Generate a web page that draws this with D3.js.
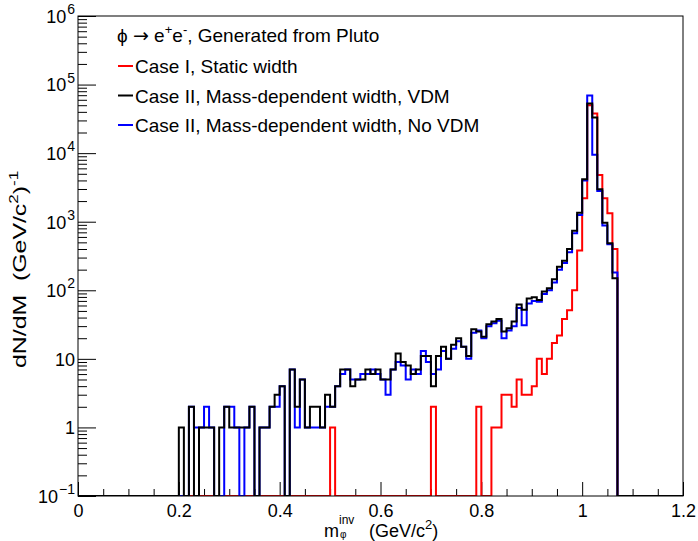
<!DOCTYPE html>
<html lang="en">
<head>
<meta charset="utf-8">
<title>phi to ee</title>
<script src="https://d3js.org/d3.v7.min.js"></script>
<style>
  body { margin: 0; background: #fff; }
  text { font-family: "Liberation Sans", Arial, Helvetica, sans-serif; fill: #000; }
</style>
</head>
<body>
<div id="chart"></div>
<script>
// histogram binning: 120 bins of 0.01 GeV from 0 to 1.2
var binWidth = 0.01,
    nBins = 120,
    firstBin = 20; // arrays below start at bin 20 (0.20 GeV)

// Case I, static width (red)
var staticWidth = [
  0,0,0,0,0,0,0,0,0,0,
  0,0,0,0,0,0,0,0,0,0,
  0,0,0,0,0,0,0,0,0,0,
  1,0,0,0,0,0,0,0,0,0,
  0,0,0,0,0,0,0,0,0,0,
  2,0,0,0,0,0,0,0,0,2,
  0,0,1,1,3,3,2,5,3,3,
  4,10,6,10,17,22,38,51,100,380,
  2200,50000,38000,4800,2200,1330,400
];
// Case II, mass-dependent width, VDM (black)
var vdm = [
  1,0,2,0,1,1,1,0,1,2,
  1,1,1,1,2,0,1,1,2,3,
  4,0,7,2,5,1,2,2,1,3,
  2,4,7,7,4,5,5,7,6,7,
  5,5,7,12,9,8,6,7,11,11,
  4,11,15,10,16,20,15,11,27,25,
  21,32,35,38,25,28,35,62,52,76,
  79,72,96,107,145,221,270,400,740,1355,
  4160,53000,33000,2970,968,484,150
];
// Case II, mass-dependent width, no VDM (blue)
var noVdm = [
  0,0,2,1,1,2,1,0,0,2,
  2,1,0,1,2,0,1,1,2,2,
  4,0,7,1,5,1,1,1,1,2,
  2,4,6,7,5,5,6,6,7,6,
  5,3,7,9,8,5,7,6,13,9,
  6,7,13,10,14,18,15,10,24,26,
  20,30,33,36,20,26,30,55,31,64,
  70,68,88,100,130,200,250,360,680,1250,
  4000,69000,9500,2800,880,470,181
];

var xTicks = [0, 0.2, 0.4, 0.6, 0.8, 1, 1.2],
    xTickLabels = ["0", "0.2", "0.4", "0.6", "0.8", "1", "1.2"],
    yTicks = [0.1, 1, 10, 100, 1000, 10000, 100000, 1000000],
    yTickLabels = [["10", "\u22121"], ["1", ""], ["10", ""], ["10", "2"], ["10", "3"], ["10", "4"], ["10", "5"], ["10", "6"]];

var legendItems = [
  {label: "Case I, Static width", color: "#ff0000"},
  {label: "Case II, Mass-dependent width, VDM", color: "#000000"},
  {label: "Case II, Mass-dependent width, No VDM", color: "#0000ff"}
];

var width = 698, height = 541,
    margin = {top: 16, right: 15, bottom: 45, left: 78};

var svg = d3.select("#chart").append("svg")
    .attr("width", width)
    .attr("height", height);

var x = d3.scaleLinear().domain([0, 1.2]).range([margin.left, width - margin.right]);
var y = d3.scaleLog().domain([0.1, 1e6]).range([height - margin.bottom, margin.top]);
var yBottom = y.range()[0];

// minor ticks
var xMinor = d3.range(0, 1.2001, 0.05).filter(function(d) { return Math.abs(d / 0.2 - Math.round(d / 0.2)) > 1e-6; });
var yMinor = [];
for (var e = -1; e < 6; e++) {
  for (var m = 2; m < 10; m++) yMinor.push(m * Math.pow(10, e));
}

svg.append("g")
    .attr("transform", "translate(0," + yBottom + ")")
    .call(d3.axisBottom(x).tickValues(xMinor).tickSize(-7).tickFormat(""))
    .call(function(g) { g.select(".domain").remove(); });

svg.append("g")
    .attr("class", "xAxis")
    .attr("transform", "translate(0," + yBottom + ")")
    .call(d3.axisBottom(x).tickValues(xTicks).tickSize(-14).tickPadding(8)
      .tickFormat(function(d, i) { return xTickLabels[i]; }))
    .call(function(g) {
      g.select(".domain").remove();
      g.selectAll("text").attr("font-size", 18).attr("dy", "0.71em")
        .style("font-family", "'Liberation Sans', Arial, sans-serif");
    });

svg.append("g")
    .attr("transform", "translate(" + margin.left + ",0)")
    .call(d3.axisLeft(y).tickValues(yMinor).tickSize(-9).tickFormat(""))
    .call(function(g) { g.select(".domain").remove(); });

svg.append("g")
    .attr("class", "yAxis")
    .attr("transform", "translate(" + margin.left + ",0)")
    .call(d3.axisLeft(y).tickValues(yTicks).tickSize(-18).tickPadding(3).tickFormat(""))
    .call(function(g) {
      g.select(".domain").remove();
      g.selectAll(".tick text").each(function(d, i) {
        var t = d3.select(this)
            .attr("font-size", 18)
            .attr("dy", "0.35em")
            .style("font-family", "'Liberation Sans', Arial, sans-serif");
        t.append("tspan").text(yTickLabels[i][0]);
        if (yTickLabels[i][1]) {
          t.append("tspan").attr("font-size", 14).attr("dx", 1).attr("dy", "-0.62em").text(yTickLabels[i][1]);
        }
      });
    });

// histograms
function histPath(values) {
  var pts = [[0, 0]];
  for (var i = 0; i < nBins; i++) {
    var k = i - firstBin;
    var v = (k >= 0 && k < values.length) ? values[k] : 0;
    pts.push([i * binWidth, v]);
  }
  pts.push([nBins * binWidth, 0]);
  return d3.line()
      .x(function(d) { return x(d[0]); })
      .y(function(d) { return d[1] > 0 ? y(d[1]) : yBottom; })
      .curve(d3.curveStepAfter)(pts);
}

svg.append("defs").append("clipPath").attr("id", "clip")
  .append("rect")
    .attr("x", margin.left).attr("y", margin.top)
    .attr("width", x.range()[1] - margin.left)
    .attr("height", yBottom - margin.top);

var hists = svg.append("g").attr("clip-path", "url(#clip)");
[[staticWidth, "#ff0000"], [noVdm, "#0000ff"], [vdm, "#000000"]].forEach(function(s) {
  hists.append("path")
      .attr("d", histPath(s[0]))
      .attr("fill", "none")
      .attr("stroke", s[1])
      .attr("stroke-width", 2)
      .attr("stroke-linejoin", "miter");
});

// frame
svg.append("rect")
    .attr("x", margin.left).attr("y", margin.top)
    .attr("width", x.range()[1] - margin.left)
    .attr("height", yBottom - margin.top)
    .attr("fill", "none").attr("stroke", "#000").attr("stroke-width", 1);

// x axis title, pieces kept apart so the sub/superscripts stack under and over each other
var xTitle = svg.append("g").attr("font-size", 18);
xTitle.append("text").attr("x", 324).attr("y", 537).text("m");
xTitle.append("text").attr("x", 340).attr("y", 538).attr("font-size", 10).text("\u03c6");
xTitle.append("text").attr("x", 339).attr("y", 524).attr("font-size", 12).text("inv");
var xt = xTitle.append("text").attr("x", 369).attr("y", 537);
xt.append("tspan").text("(GeV/c");
xt.append("tspan").attr("font-size", 13).attr("dy", -8).text("2");
xt.append("tspan").attr("dy", 8).text(")");

var yt = svg.append("text")
    .attr("transform", "translate(26,368) rotate(-90) scale(1.42,1)")
    .attr("font-size", 17.5);
yt.append("tspan").text("dN/dM\u00a0\u00a0(GeV/c");
yt.append("tspan").attr("font-size", 12).attr("dy", -8).text("2");
yt.append("tspan").attr("dy", 8).text(")");
yt.append("tspan").attr("font-size", 12).attr("dy", -8).text("-1");

// legend
var lg = svg.append("g");
var head = lg.append("text").attr("x", 117).attr("y", 42).attr("font-size", 19);
head.append("tspan").text("\u03d5 ");
head.append("tspan").style("font-family", "'DejaVu Sans', sans-serif").text("\u2192");
head.append("tspan").text(" e");
head.append("tspan").attr("font-size", 13).attr("dy", -8).text("+");
head.append("tspan").attr("dy", 8).text("e");
head.append("tspan").attr("font-size", 13).attr("dy", -8).text("-");
head.append("tspan").attr("dy", 8).text(", Generated from Pluto");

legendItems.forEach(function(d, i) {
  var yy = 66 + i * 29.5;
  lg.append("line")
      .attr("x1", 118).attr("x2", 133)
      .attr("y1", yy).attr("y2", yy)
      .attr("stroke", d.color).attr("stroke-width", 2);
  lg.append("text")
      .attr("x", 135).attr("y", yy + 7)
      .attr("font-size", 19)
      .text(d.label);
});
</script>
</body>
</html>
